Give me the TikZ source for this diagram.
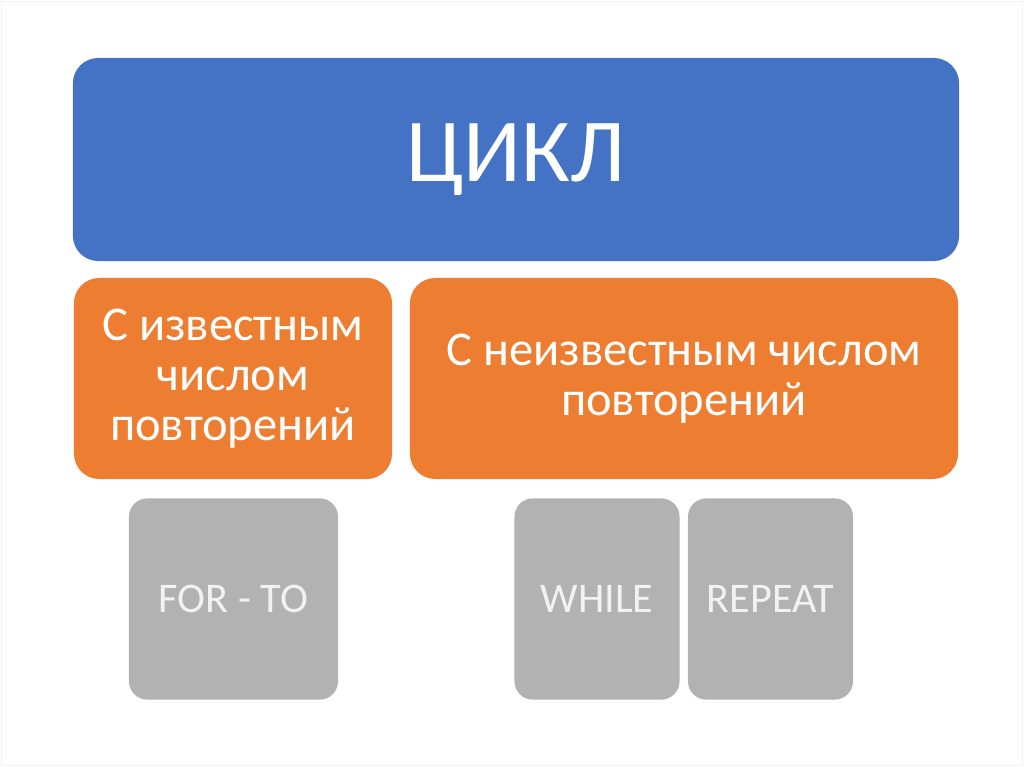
\documentclass[tikz,border=0pt]{standalone}
\usepackage{fontspec}
\setmainfont{Carlito}
\usepackage{tikz}
\usetikzlibrary{positioning}

\definecolor{cikblue}{HTML}{4472C4}
\definecolor{cikorange}{HTML}{ED7D31}
\definecolor{cikgray}{HTML}{B2B2B2}
\definecolor{cikframe}{HTML}{F3F3F3}

\begin{document}
\begin{tikzpicture}[
    x=0.025cm, y=-0.025cm,
    box/.style={rounded corners=18pt, align=center, inner sep=0pt, text=white},
    head/.style={box, fill=cikblue, minimum width=22.15cm, minimum height=5.075cm, font=\fontsize{64}{77}\selectfont},
    kind/.style={box, fill=cikorange, minimum height=5.025cm, font=\fontsize{34.5}{35.5}\selectfont},
    loop/.style={box, fill=cikgray, rounded corners=13pt, minimum height=5.03cm, text=white!95!black, font=\fontsize{30}{36}\selectfont}
]
% page with a faint frame
\draw[cikframe, fill=white] (1,1) rectangle (1022,765);
\useasboundingbox (0,0) rectangle (1024,767);

\node[head] (cikl) at (516,159.5) {ЦИКЛ};
\node[kind, minimum width=7.95cm] (known) at (233,378.5) {С известным\\числом\\повторений};
\node[kind, minimum width=13.7cm] (unknown) at (684,378.5) {С неизвестным числом\\повторений};
\node[loop, minimum width=5.225cm] (forto) at (233.5,599) {FOR - TO};
\node[loop, minimum width=4.125cm] (while) at (597,599) {WHILE};
\node[loop, minimum width=4.125cm] (repeat) at (770.5,599) {REPEAT};
\end{tikzpicture}
\end{document}
